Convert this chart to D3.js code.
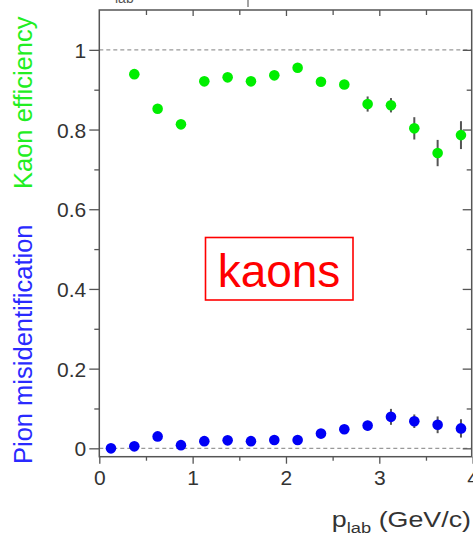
<!DOCTYPE html>
<html>
<head>
<meta charset="utf-8">
<script src="https://cdn.jsdelivr.net/npm/d3@7"></script>
<style>
  html, body { margin: 0; padding: 0; background: #fff; }
  svg { display: block; font-family: "Liberation Sans", Arial, Helvetica, sans-serif; }
</style>
</head>
<body>
<svg id="chart" width="473" height="536"></svg>
<script>
// Momentum bin centres (GeV/c)
const kaonMomentum = [0.375, 0.625, 0.875, 1.125, 1.375, 1.625, 1.875, 2.125, 2.375, 2.625, 2.875, 3.125, 3.375, 3.625, 3.875];
const pionMomentum = [0.125, 0.375, 0.625, 0.875, 1.125, 1.375, 1.625, 1.875, 2.125, 2.375, 2.625, 2.875, 3.125, 3.375, 3.625, 3.875];

// Kaon identification efficiency and its uncertainty
const kaonEfficiency = [0.939, 0.852, 0.813, 0.921, 0.931, 0.921, 0.936, 0.955, 0.920, 0.913, 0.864, 0.861, 0.803, 0.741, 0.786];
const kaonError      = [0.008, 0.010, 0.010, 0.008, 0.008, 0.008, 0.008, 0.008, 0.008, 0.010, 0.019, 0.018, 0.028, 0.033, 0.035];

// Pion misidentification probability and its uncertainty
const pionMisid = [0.000, 0.005, 0.030, 0.008, 0.018, 0.020, 0.018, 0.021, 0.021, 0.037, 0.048, 0.057, 0.079, 0.068, 0.059, 0.050];
const pionError = [0.003, 0.004, 0.006, 0.004, 0.005, 0.005, 0.005, 0.005, 0.005, 0.006, 0.010, 0.012, 0.020, 0.017, 0.021, 0.023];

// Axis ticks
const xMajorTicks = [0, 1, 2, 3, 4];
const xMinorTicks = [0.5, 1.5, 2.5, 3.5];
const yMajorTicks = [0, 0.2, 0.4, 0.6, 0.8, 1];
const yMinorTicks = [0.1, 0.3, 0.5, 0.7, 0.9, 1.1];
const referenceLines = [0, 1];

const svg = d3.select("#chart");

const x = d3.scaleLinear().domain([0, 3.99]).range([99.3, 471.7]);
const y = d3.scaleLinear().domain([-0.021, 1.1]).range([456.7, 10]);

const frameColor = "#555";
const tickColor = "#555";
const labelColor = "#333";
const green = "#00ee00";
const blue = "#0000f5";

// Dashed guide lines at 0 and 1
svg.append("g")
  .selectAll("line")
  .data(referenceLines)
  .join("line")
  .attr("x1", x(0)).attr("x2", x(3.99))
  .attr("y1", d => y(d)).attr("y2", d => y(d))
  .attr("stroke", "#999")
  .attr("stroke-width", 1.2)
  .attr("stroke-dasharray", "4,3");

function styleAxis(g) {
  g.select(".domain").remove();
  g.selectAll(".tick line").attr("stroke", tickColor).attr("stroke-width", 1.3);
  g.selectAll(".tick text")
    .attr("fill", labelColor)
    .attr("font-size", 21)
    .attr("font-family", "Liberation Sans, Arial, sans-serif");
}

const fmt = d3.format("~g");

// Left axis: labelled major ticks and short minor ticks, pointing outward
svg.append("g")
  .attr("transform", `translate(${x(0)},0)`)
  .call(d3.axisLeft(y).tickValues(yMajorTicks).tickSize(10).tickPadding(3).tickFormat(fmt))
  .call(styleAxis)
  .selectAll(".tick text").attr("dy", "0.36em");
svg.append("g")
  .attr("transform", `translate(${x(0)},0)`)
  .call(d3.axisLeft(y).tickValues(yMinorTicks.filter(v => v < 1.09)).tickSize(5).tickFormat(""))
  .call(styleAxis);

// Right axis: ticks pointing into the frame
svg.append("g")
  .attr("transform", `translate(${x(3.99)},0)`)
  .call(d3.axisLeft(y).tickValues(yMajorTicks).tickSize(-0).tickFormat(""))
  .call(styleAxis);
svg.append("g")
  .attr("transform", `translate(${x(3.99)},0)`)
  .call(d3.axisRight(y).tickValues(yMajorTicks).tickSize(-9).tickFormat(""))
  .call(styleAxis);
svg.append("g")
  .attr("transform", `translate(${x(3.99)},0)`)
  .call(d3.axisRight(y).tickValues(yMinorTicks.filter(v => v < 1.09)).tickSize(-5).tickFormat(""))
  .call(styleAxis);

// Bottom axis: labelled major ticks and minor ticks, pointing outward
svg.append("g")
  .attr("transform", `translate(0,${y(-0.021)})`)
  .call(d3.axisBottom(x).tickValues(xMajorTicks).tickSize(7).tickPadding(6).tickFormat(fmt))
  .call(styleAxis);
svg.append("g")
  .attr("transform", `translate(0,${y(-0.021)})`)
  .call(d3.axisBottom(x).tickValues(xMinorTicks).tickSize(4).tickFormat(""))
  .call(styleAxis);

// Top axis: ticks pointing into the frame
svg.append("g")
  .attr("transform", `translate(0,${y(1.1)})`)
  .call(d3.axisBottom(x).tickValues(xMajorTicks.filter(v => v > 0 && v < 3.99)).tickSize(6).tickFormat(""))
  .call(styleAxis);
svg.append("g")
  .attr("transform", `translate(0,${y(1.1)})`)
  .call(d3.axisBottom(x).tickValues(xMinorTicks).tickSize(5).tickFormat(""))
  .call(styleAxis);

// Plot frame
svg.append("rect")
  .attr("x", x(0)).attr("y", y(1.1))
  .attr("width", x(3.99) - x(0))
  .attr("height", y(-0.021) - y(1.1))
  .attr("fill", "none")
  .attr("stroke", frameColor)
  .attr("stroke-width", 1.5);

// Series drawing: vertical error bars, then round markers
function drawSeries(xs, vals, errs, color) {
  const pts = xs.map((p, i) => ({ p, v: vals[i], e: errs[i] }));
  const g = svg.append("g");
  g.selectAll("line.err")
    .data(pts)
    .join("line")
    .attr("class", "err")
    .attr("x1", d => x(d.p)).attr("x2", d => x(d.p))
    .attr("y1", d => y(d.v - d.e)).attr("y2", d => y(d.v + d.e))
    .attr("stroke", "#555")
    .attr("stroke-width", 2);
  g.selectAll("circle")
    .data(pts)
    .join("circle")
    .attr("cx", d => x(d.p))
    .attr("cy", d => y(d.v))
    .attr("r", 5.3)
    .attr("fill", color);
}

drawSeries(kaonMomentum, kaonEfficiency, kaonError, green);
drawSeries(pionMomentum, pionMisid, pionError, blue);

// Y-axis titles (two colours)
svg.append("text")
  .attr("transform", "translate(32,464) rotate(-90)")
  .attr("font-size", 25.5)
  .attr("fill", "#2a2aff")
  .text("Pion misidentification");
svg.append("text")
  .attr("transform", "translate(32,189) rotate(-90)")
  .attr("font-size", 25.5)
  .attr("fill", "#22ee22")
  .text("Kaon efficiency");

// X-axis title
const xt = svg.append("g").attr("transform", "translate(471,527) scale(1.22,1)");
const xtText = xt.append("text")
  .attr("text-anchor", "end")
  .attr("font-size", 22)
  .attr("fill", labelColor);
xtText.append("tspan").text("p");
xtText.append("tspan").attr("font-size", 15).attr("dy", 6).text("lab");
xtText.append("tspan").attr("dy", -6).text(" (GeV/c)");

// "kaons" label box
svg.append("rect")
  .attr("x", 205.5).attr("y", 237.5)
  .attr("width", 147.5).attr("height", 62.5)
  .attr("fill", "#fff")
  .attr("stroke", "#ff0000")
  .attr("stroke-width", 1.6);
svg.append("text")
  .attr("x", 279).attr("y", 286.5)
  .attr("text-anchor", "middle")
  .attr("font-size", 46)
  .attr("fill", "#ff0000")
  .text("kaons");

// Fragments of the panel above, clipped at the top edge
svg.append("text")
  .attr("x", 115).attr("y", 3)
  .attr("font-size", 14)
  .attr("fill", "#555")
  .text("lab");
svg.append("line")
  .attr("x1", 248).attr("x2", 248)
  .attr("y1", 0).attr("y2", 7)
  .attr("stroke", "#666")
  .attr("stroke-width", 1.2);
</script>
</body>
</html>
